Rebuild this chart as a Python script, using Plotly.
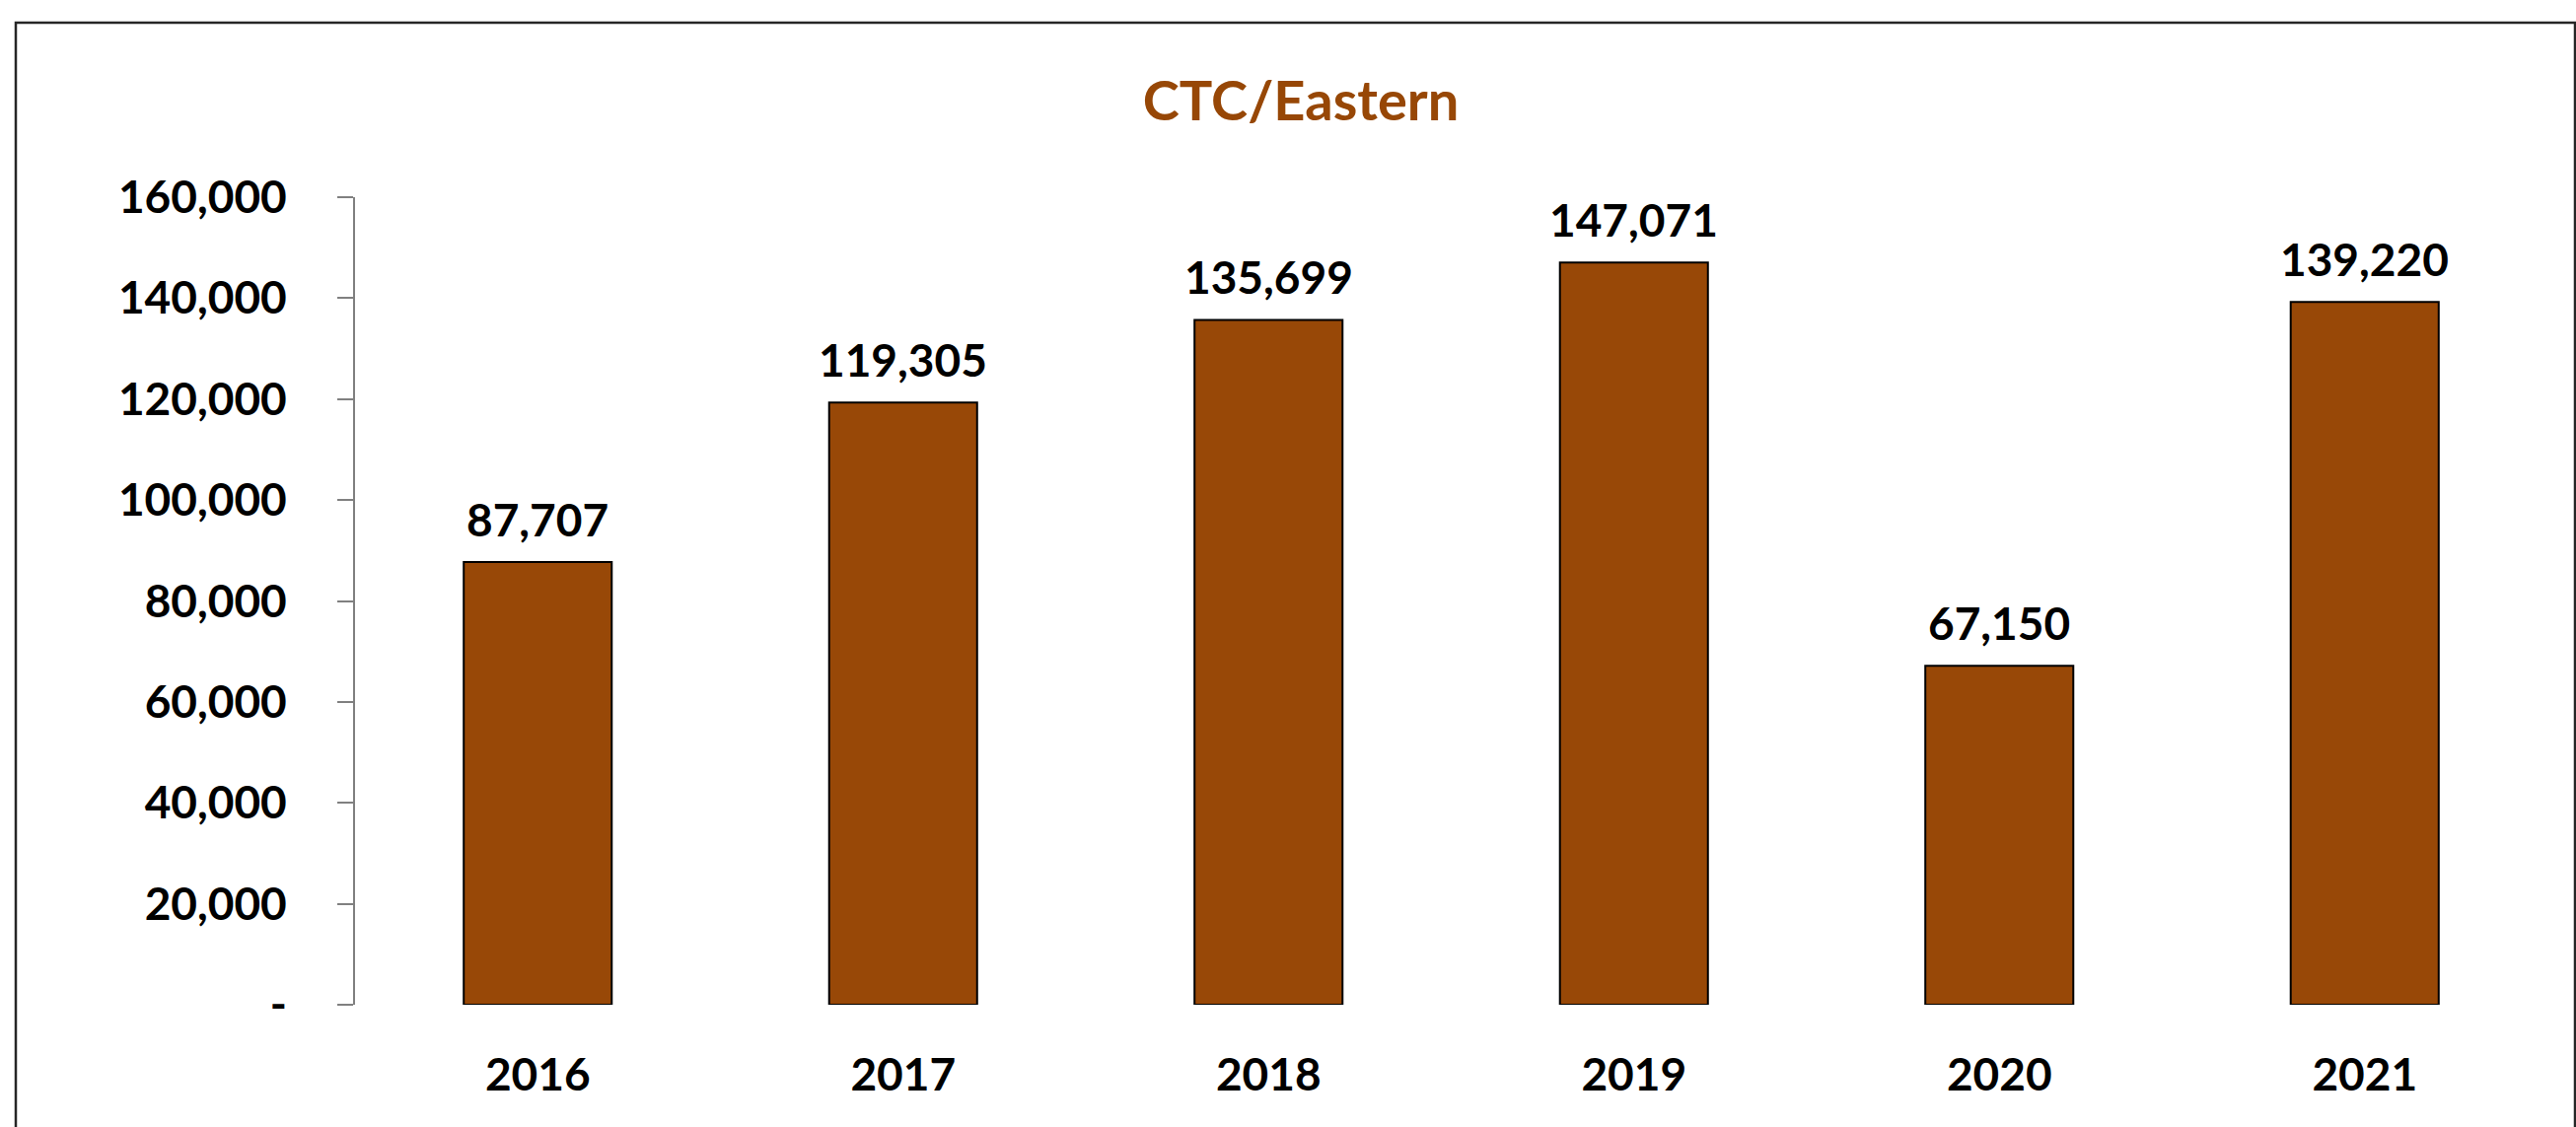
import plotly.graph_objects as go

years = ["2016", "2017", "2018", "2019", "2020", "2021"]
values = [87707, 119305, 135699, 147071, 67150, 139220]
value_labels = ["87,707", "119,305", "135,699", "147,071", "67,150", "139,220"]
y_tick_vals = [0, 20000, 40000, 60000, 80000, 100000, 120000, 140000, 160000]
y_tick_text = ["-", "20,000", "40,000", "60,000", "80,000", "100,000", "120,000", "140,000", "160,000"]
title_text = "CTC/Eastern"

BAR = "#984807"
FONT = "Lato"

W, H = 2612, 1143
L, R, T, B = 360, 29, 200, 124
pw, ph = W - L - R, H - T - B

fig = go.Figure()
fig.add_trace(go.Bar(
    x=years, y=values,
    marker=dict(color=BAR, line=dict(color="#000000", width=2)),
    hoverinfo="skip",
))

for i, (v, t) in enumerate(zip(values, value_labels)):
    fig.add_annotation(x=i, y=v, xref="x", yref="y", text=t, showarrow=False, yanchor="bottom",
                       yshift=14, font=dict(family=FONT, size=46, color="#000000", weight=700))

fig.update_layout(
    width=W, height=H,
    margin=dict(l=L, r=R, t=T, b=B, autoexpand=False),
    paper_bgcolor="white", plot_bgcolor="white",
    bargap=0.595,
    showlegend=False,
    title=dict(text=title_text, x=0.505, xanchor="center", y=0.91, yanchor="middle",
               font=dict(family=FONT, size=56, color="#974706", weight=700)),
    xaxis=dict(type="category", range=[-0.5, len(years) - 0.5], automargin=False,
               showline=False, showgrid=False, zeroline=False, ticks="",
               tickfont=dict(family=FONT, size=46, color="#000000", weight=700),
               ticklabelstandoff=40),
    yaxis=dict(range=[0, 160000], tickvals=y_tick_vals, ticktext=y_tick_text, automargin=False,
               showline=True, linecolor="#808080", linewidth=2,
               ticks="outside", ticklen=16, tickcolor="#808080", tickwidth=2,
               showgrid=False, zeroline=False,
               tickfont=dict(family=FONT, size=46, color="#000000", weight=700),
               ticklabelstandoff=42),
    shapes=[dict(type="rect", xref="paper", yref="paper",
                 x0=(16 - L) / pw, x1=(2611 - L) / pw, y0=-0.3, y1=(H - B - 23) / ph,
                 line=dict(color="#262626", width=2.5), fillcolor="rgba(0,0,0,0)", layer="below")],
)

fig.write_html("out.html", config={"displayModeBar": False},
               post_script="document.body.style.margin='0';document.body.style.overflow='hidden';")
